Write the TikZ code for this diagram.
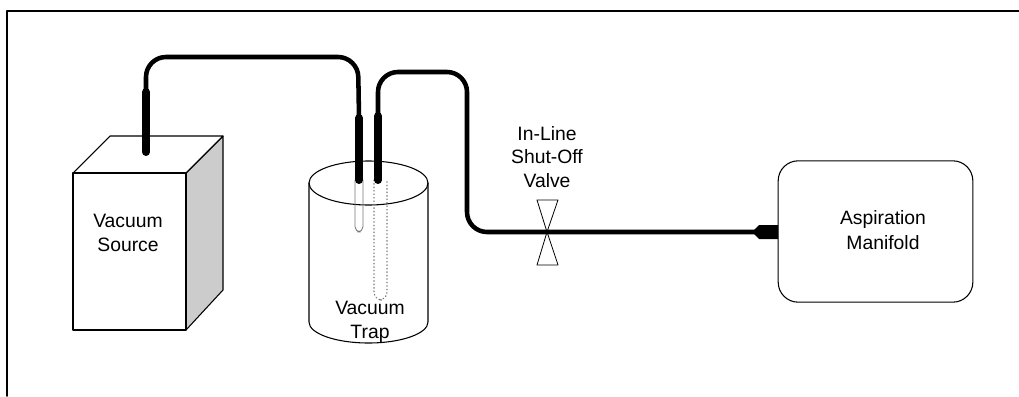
\documentclass[tikz,border=0pt]{standalone}
\usepackage{fontspec}
\setmainfont{Liberation Sans}
\usetikzlibrary{arrows}

\begin{document}
\begin{tikzpicture}[line cap=round,line join=round,x=0.75pt,y=-0.75pt,
  hose/.style={line width=3.4pt,rounded corners=15pt},
  fitting/.style={line width=6pt},
  glass/.style={black!55,line width=0.6pt,rounded corners=4pt},
  lbl/.style={font=\fontsize{14.5}{18.5}\selectfont,align=center}]
\useasboundingbox (0,0) rectangle (1019,396);
% frame
\draw[line width=1.4pt] (7,396) -- (7,11) -- (1019,11);
% vacuum source
\draw[fill=black!20,line width=0.8pt] (186,173) -- (223,136) -- (223,290) -- (186,330) -- cycle;
\draw[line width=0.8pt] (73,173) -- (110,136) -- (223,136) -- (186,173);
\draw[line width=0.8pt,fill=white] (73,173) rectangle (186,330);
\node[lbl] (source) at (128,233) {Vacuum\\Source};
% vacuum trap
\draw[line width=0.8pt] (309,183) -- (309,322) arc[start angle=180,end angle=0,x radius=59.5,y radius=21] -- (428,183);
\draw[line width=0.8pt] (368.5,183) ellipse[x radius=59.5,y radius=22];
\node[lbl] (trap) at (370,322) {Vacuum\\Trap};
\draw[glass] (355,180) -- (355,232) -- (363,232) -- (363,180);
\draw[glass,dotted,line width=0.8pt,rounded corners=6pt] (374,180) -- (374,300) -- (387,300) -- (387,180);
% fittings
\coordinate (s1) at (146,92);
\coordinate (t1) at (359,118);
\coordinate (t2) at (378,116);
\draw[fitting] (s1) -- (146,152);
\draw[fitting] (t1) -- (359,180);
\draw[fitting] (t2) -- (378,180);
% valve and manifold
\node (valve) at (547,232) {};
\node[draw,line width=0.8pt,rounded corners=15pt,minimum width=146pt,minimum height=106pt] (manifold) at (875.5,231.5) {};
\node[lbl] (manifoldtext) at (883,230) {Aspiration\\Manifold};
\coordinate (port) at (757,232);
\fill (752,232) -- (759,225) -- (778,225) -- (778,239) -- (759,239) -- cycle;
% hoses
\draw[hose] (s1) -- (146,57) -- (358,57) -- (t1);
\draw[hose] (t2) -- (378,72) -- (467,72) -- (467,232) -- (valve.center) -- (port);
\draw[line width=0.6pt] (valve.center) -- (537,200) -- (558,200) -- cycle;
\draw[line width=0.6pt] (valve.center) -- (537,265) -- (558,265) -- cycle;
\node[lbl,font=\fontsize{14.5}{17.6}\selectfont] (valvetext) at (547,157) {In-Line\\Shut-Off\\Valve};
\end{tikzpicture}
\end{document}
